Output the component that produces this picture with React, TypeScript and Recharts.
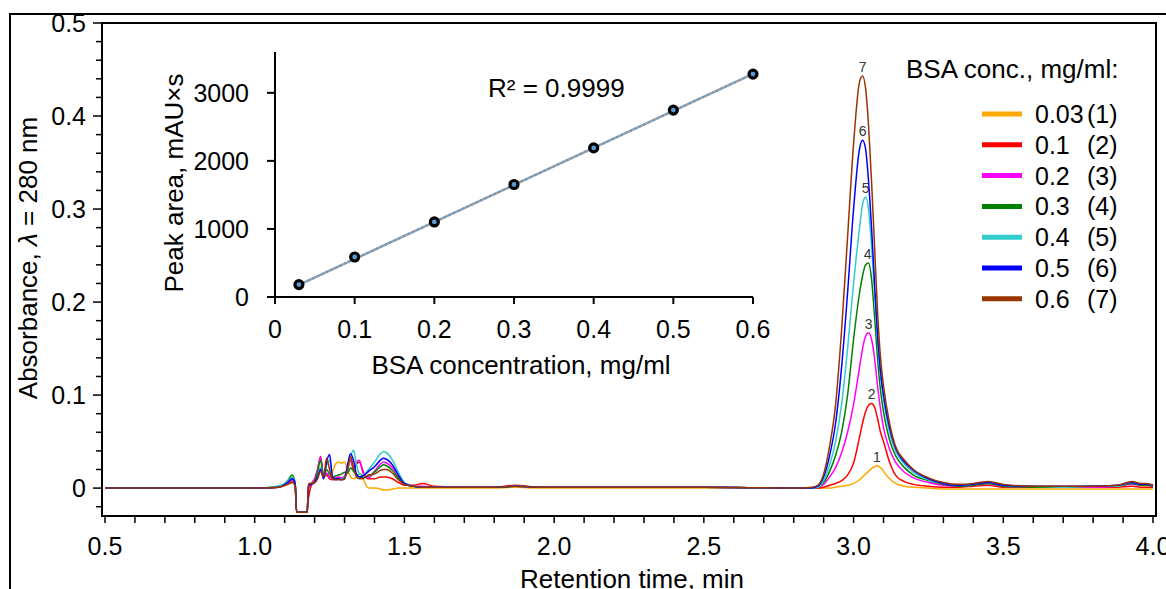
import { ComposedChart, LineChart, Line, Scatter, XAxis, YAxis, ReferenceArea, ReferenceDot, Label } from "recharts"

const FONT = "'Liberation Sans', Arial, sans-serif"

// retention time, min (grid is denser where the traces change fast)
const retentionTime = [
  0.5, 0.8, 1.0, 1.08, 1.11, 1.125, 1.135, 1.14, 1.145, 1.175,
  1.18, 1.19, 1.2, 1.21, 1.22, 1.23, 1.24, 1.25, 1.26, 1.27, 1.28, 1.29, 1.3, 1.31, 1.32, 1.33, 1.34, 1.35, 1.36, 1.37, 1.38,
  1.4, 1.42, 1.43, 1.44, 1.46, 1.48, 1.5, 1.53, 1.56, 1.6, 1.7, 1.8, 1.87, 1.95, 2.2, 2.5, 2.8,
  2.86, 2.88, 2.9, 2.92, 2.94, 2.96, 2.98, 3.0, 3.02, 3.03, 3.04, 3.05, 3.06, 3.07, 3.08, 3.09, 3.1, 3.12, 3.14, 3.17, 3.2, 3.25, 3.3,
  3.35, 3.4, 3.45, 3.5, 3.6, 3.7, 3.8, 3.88, 3.93, 3.96, 3.98, 4.0,
]

const absorbance1 = [
  0, 0, 0, 0.001, 0.004, 0.006, 0.003, -0.026, -0.026, -0.026,
  0.002, 0.006, 0.01, 0.018, 0.022, 0.012, 0.015, 0.012, 0.018, 0.026, 0.028, 0.027, 0.028, 0.02, 0.012, 0.01, 0.012, 0.016, 0.012, 0.004, 0,
  0, -0.001, -0.002, -0.002, -0.001, 0, 0, 0, 0, 0, 0, 0, 0.001, 0, 0, 0, 0,
  0, 0, 0, 0, 0.001, 0.002, 0.003, 0.005, 0.009, 0.012, 0.015, 0.018, 0.021, 0.023, 0.024, 0.022, 0.018, 0.01, 0.005, 0.002, 0.001, 0, -0.001,
  -0.001, -0.001, -0.001, -0.001, -0.001, -0.001, -0.001, -0.001, -0.001, -0.001, -0.001, -0.001,
]
const absorbance2 = [
  0, 0, 0, 0.001, 0.005, 0.008, 0.004, -0.026, -0.026, -0.026,
  -0.01, 0.004, 0.008, 0.02, 0.034, 0.012, 0.014, 0.01, 0.009, 0.01, 0.011, 0.01, 0.012, 0.02, 0.03, 0.02, 0.026, 0.028, 0.02, 0.012, 0.01,
  0.01, 0.012, 0.012, 0.012, 0.01, 0.006, 0.003, 0.003, 0.005, 0.002, 0.001, 0.001, 0.003, 0.001, 0.001, 0.001, 0,
  0, 0, 0.001, 0.003, 0.005, 0.008, 0.014, 0.027, 0.055, 0.07, 0.082, 0.089, 0.091, 0.087, 0.075, 0.06, 0.05, 0.028, 0.014, 0.007, 0.004, 0.002, 0.001,
  0.001, 0.002, 0.003, 0.001, 0.001, 0.001, 0.001, 0.001, 0.002, 0.001, 0.001, 0.001,
]
const absorbance3 = [
  0, 0, 0, 0.001, 0.005, 0.009, 0.004, -0.026, -0.026, -0.026,
  0, 0.005, 0.01, 0.02, 0.033, 0.014, 0.016, 0.012, 0.01, 0.011, 0.012, 0.011, 0.013, 0.022, 0.032, 0.022, 0.028, 0.03, 0.018, 0.012, 0.011,
  0.018, 0.026, 0.028, 0.027, 0.022, 0.013, 0.005, 0.002, 0.002, 0.001, 0.001, 0.001, 0.002, 0.001, 0.001, 0.001, 0,
  0, 0.001, 0.004, 0.012, 0.022, 0.038, 0.06, 0.09, 0.13, 0.15, 0.163, 0.167, 0.16, 0.14, 0.11, 0.085, 0.065, 0.042, 0.028, 0.017, 0.011, 0.006, 0.003,
  0.002, 0.003, 0.005, 0.002, 0.001, 0.001, 0.001, 0.002, 0.004, 0.003, 0.003, 0.002,
]
const absorbance4 = [
  0, 0, 0, 0.002, 0.008, 0.014, 0.006, -0.026, -0.026, -0.026,
  0.004, 0.005, 0.007, 0.018, 0.03, 0.012, 0.02, 0.015, 0.012, 0.013, 0.014, 0.015, 0.017, 0.016, 0.022, 0.018, 0.014, 0.012, 0.011, 0.012, 0.013,
  0.017, 0.023, 0.025, 0.024, 0.019, 0.011, 0.004, 0.002, 0.001, 0.001, 0.001, 0.001, 0.002, 0.001, 0.001, 0.001, 0,
  0, 0.001, 0.006, 0.018, 0.035, 0.06, 0.1, 0.16, 0.21, 0.228, 0.24, 0.242, 0.225, 0.185, 0.14, 0.105, 0.082, 0.052, 0.035, 0.022, 0.014, 0.008, 0.004,
  0.002, 0.003, 0.005, 0.002, 0.001, 0.001, 0.002, 0.002, 0.005, 0.003, 0.003, 0.002,
]
const absorbance5 = [
  0, 0, 0, 0.002, 0.007, 0.012, 0.005, -0.026, -0.026, -0.026,
  0.004, 0.005, 0.006, 0.012, 0.022, 0.01, 0.025, 0.03, 0.01, 0.009, 0.01, 0.01, 0.012, 0.02, 0.034, 0.041, 0.025, 0.015, 0.014, 0.016, 0.02,
  0.028, 0.037, 0.039, 0.038, 0.03, 0.017, 0.006, 0.002, 0.001, 0.001, 0.001, 0.001, 0.002, 0.001, 0.001, 0.001, 0,
  0, 0.001, 0.008, 0.025, 0.05, 0.09, 0.15, 0.22, 0.28, 0.305, 0.313, 0.3, 0.26, 0.21, 0.16, 0.12, 0.095, 0.06, 0.04, 0.026, 0.017, 0.009, 0.005,
  0.003, 0.004, 0.006, 0.003, 0.002, 0.001, 0.002, 0.002, 0.006, 0.004, 0.004, 0.003,
]
const absorbance6 = [
  0, 0, 0, 0.001, 0.006, 0.01, 0.005, -0.026, -0.026, -0.026,
  0.003, 0.004, 0.006, 0.012, 0.02, 0.01, 0.028, 0.036, 0.012, 0.01, 0.01, 0.009, 0.01, 0.025, 0.037, 0.03, 0.015, 0.012, 0.013, 0.015, 0.018,
  0.023, 0.03, 0.032, 0.031, 0.025, 0.014, 0.005, 0.002, 0.001, 0.001, 0.001, 0.001, 0.002, 0.001, 0.001, 0.001, 0,
  0, 0.002, 0.012, 0.035, 0.07, 0.13, 0.21, 0.3, 0.365, 0.374, 0.365, 0.33, 0.28, 0.22, 0.165, 0.125, 0.1, 0.065, 0.043, 0.028, 0.019, 0.01, 0.005,
  0.003, 0.004, 0.006, 0.003, 0.002, 0.002, 0.002, 0.003, 0.006, 0.004, 0.004, 0.003,
]
const absorbance7 = [
  0, 0, 0, 0.001, 0.004, 0.006, 0.003, -0.026, -0.026, -0.026,
  0.005, 0.005, 0.006, 0.01, 0.018, 0.012, 0.032, 0.02, 0.01, 0.009, 0.009, 0.009, 0.01, 0.02, 0.034, 0.022, 0.012, 0.01, 0.01, 0.012, 0.014,
  0.015, 0.019, 0.02, 0.02, 0.016, 0.009, 0.004, 0.002, 0.001, 0.001, 0.001, 0.001, 0.002, 0.001, 0.001, 0.001, 0,
  0.001, 0.003, 0.015, 0.045, 0.09, 0.17, 0.27, 0.37, 0.437, 0.443, 0.43, 0.39, 0.33, 0.26, 0.19, 0.14, 0.11, 0.07, 0.045, 0.03, 0.02, 0.011, 0.006,
  0.004, 0.005, 0.007, 0.004, 0.002, 0.002, 0.002, 0.003, 0.007, 0.005, 0.005, 0.003,
]

const seriesValues = [absorbance1, absorbance2, absorbance3, absorbance4, absorbance5, absorbance6, absorbance7]
const seriesColors = ["#FFA800", "#FF0000", "#FF00FF", "#008000", "#33CCCC", "#0000FF", "#993300"]
const concentrationLabels = ["0.03", "0.1", "0.2", "0.3", "0.4", "0.5", "0.6"]

// peak apex for the little 1..7 numbers
const peakTime = [3.078, 3.06, 3.05, 3.047, 3.04, 3.03, 3.03]
const peakHeight = [0.024, 0.091, 0.167, 0.242, 0.313, 0.374, 0.443]

// inset: calibration
const bsaConcentration = [0.03, 0.1, 0.2, 0.3, 0.4, 0.5, 0.6]
const peakArea = [182, 588, 1103, 1653, 2191, 2746, 3275]
const fitConcentration = [0.03, 0.6]
const fitArea = [178, 3278]

const xTicks = Array.from({ length: 36 }, (_, i) => +(0.5 + i * 0.1).toFixed(1))
const yTicks = Array.from({ length: 27 }, (_, i) => +(-0.02 + i * 0.02).toFixed(2))
const insetXTicks = [0, 0.1, 0.2, 0.3, 0.4, 0.5, 0.6]
const insetYTicks = [0, 1000, 2000, 3000]

const rows = retentionTime.map((t, i) => {
  const row: Record<string, number> = { t }
  seriesValues.forEach((s, k) => (row[`s${k + 1}`] = s[i]))
  return row
})
const calibration = bsaConcentration.map((x, i) => ({ x, y: peakArea[i] }))
const fitLine = fitConcentration.map((x, i) => ({ x, y: fitArea[i] }))

const isMultiple = (v: number, step: number) => Math.abs(v / step - Math.round(v / step)) < 1e-6

const MainXTick = ({ x, y, payload }: any) => {
  const v = payload.value
  return (
    <g>
      <line x1={x} x2={x} y1={y} y2={y + 7} stroke="#000" strokeWidth={1.5} />
      {isMultiple(v, 0.5) && (
        <text x={x} y={y + 39} textAnchor="middle" fontSize={25} fill="#000">
          {v.toFixed(1)}
        </text>
      )}
    </g>
  )
}

const MainYTick = ({ x, y, payload }: any) => {
  const v = payload.value
  const major = isMultiple(v, 0.1)
  return (
    <g>
      <line x1={x - (major ? 9 : 6)} x2={x} y1={y} y2={y} stroke="#000" strokeWidth={1.5} />
      {major && (
        <text x={x - 16} y={y + 9} textAnchor="end" fontSize={25} fill="#000">
          {v === 0 ? "0" : v.toFixed(1)}
        </text>
      )}
    </g>
  )
}

const InsetXTick = ({ x, y, payload }: any) => (
  <g>
    <line x1={x} x2={x} y1={y} y2={y + 7} stroke="#000" strokeWidth={2} />
    <text x={x} y={y + 41} textAnchor="middle" fontSize={25} fill="#000">
      {payload.value === 0 ? "0" : payload.value.toFixed(1)}
    </text>
  </g>
)

const InsetYTick = ({ x, y, payload }: any) => (
  <g>
    <line x1={x - 8} x2={x} y1={y} y2={y} stroke="#000" strokeWidth={2} />
    <text x={x - 26} y={y + 9} textAnchor="end" fontSize={25} fill="#000">
      {payload.value}
    </text>
  </g>
)

const Title = ({ x, y, text, size, rotate }: { x: number; y: number; text: React.ReactNode; size: number; rotate?: boolean }) => (
  <text
    x={x}
    y={y}
    textAnchor="middle"
    fontSize={size}
    fill="#000"
    transform={rotate ? `rotate(-90 ${x} ${y})` : undefined}
  >
    {text}
  </text>
)

export default function App() {
  return (
    <div style={{ position: "absolute", left: 0, top: 0, width: 1166, height: 589, fontFamily: FONT, background: "#fff", overflow: "hidden" }}>
      <div style={{ position: "absolute", left: 9, top: 13, width: 1200, height: 600, borderLeft: "2px solid #000", borderTop: "2px solid #000" }} />

      <div style={{ position: "absolute", left: 0, top: 0 }}>
        <LineChart width={1166} height={589} data={rows} margin={{ top: 23, right: 10, bottom: 0, left: 0 }}>
          <XAxis
            dataKey="t"
            type="number"
            domain={[0.49, 4.01]}
            allowDataOverflow
            ticks={xTicks}
            interval={0}
            tick={MainXTick}
            tickSize={0}
            tickMargin={0}
            tickLine={false}
            axisLine={false}
            height={73}
          >
            <Label content={() => <Title x={632} y={588} size={26} text="Retention time, min" />} />
          </XAxis>
          <YAxis
            type="number"
            domain={[-0.03, 0.5]}
            allowDataOverflow
            ticks={yTicks}
            interval={0}
            tick={MainYTick}
            tickSize={0}
            tickMargin={0}
            tickLine={false}
            axisLine={false}
            width={102}
          >
            <Label
              content={() => (
                <Title
                  x={37}
                  y={258}
                  size={26}
                  rotate
                  text={
                    <>
                      Absorbance, <tspan fontStyle="italic">λ</tspan> = 280 nm
                    </>
                  }
                />
              )}
            />
          </YAxis>
          <ReferenceArea x1={0.49} x2={4.01} y1={-0.03} y2={0.5} fill="none" stroke="#000" strokeWidth={2} />
          {seriesValues.map((_, k) => (
            <Line
              key={k}
              dataKey={`s${k + 1}`}
              type="monotone"
              stroke={seriesColors[k]}
              strokeWidth={1.5}
              dot={false}
              isAnimationActive={false}
            />
          ))}
          {peakTime.map((t, k) => (
            <ReferenceDot
              key={k}
              x={t}
              y={peakHeight[k]}
              r={1}
              fill="none"
              stroke="none"
              label={{ value: String(k + 1), position: "top", offset: 3, fontSize: 14, fill: "#333" }}
            />
          ))}
        </LineChart>
      </div>

      <div style={{ position: "absolute", left: 150, top: 30 }}>
        <ComposedChart width={620} height={360} margin={{ top: 22, right: 17, bottom: 0, left: 0 }}>
          <XAxis
            dataKey="x"
            type="number"
            domain={[0, 0.6]}
            ticks={insetXTicks}
            interval={0}
            tick={InsetXTick}
            tickSize={0}
            tickMargin={0}
            tickLine={false}
            axisLine={{ stroke: "#000", strokeWidth: 2 }}
            height={93}
          >
            <Label content={() => <Title x={371} y={344} size={26} text="BSA concentration, mg/ml" />} />
          </XAxis>
          <YAxis
            dataKey="y"
            type="number"
            domain={[0, 3600]}
            ticks={insetYTicks}
            interval={0}
            tick={InsetYTick}
            tickSize={0}
            tickMargin={0}
            tickLine={false}
            axisLine={{ stroke: "#000", strokeWidth: 2 }}
            width={125}
          >
            <Label content={() => <Title x={33} y={153} size={26} rotate text="Peak area, mAU×s" />} />
          </YAxis>
          <Line data={fitLine} dataKey="y" type="linear" stroke="#a0a0a0" strokeWidth={2.5} dot={false} isAnimationActive={false} />
          <Line data={fitLine} dataKey="y" type="linear" stroke="#5b9bd5" strokeWidth={2} strokeDasharray="2 3" dot={false} isAnimationActive={false} />
          <Scatter
            data={calibration}
            dataKey="y"
            isAnimationActive={false}
            shape={(p: any) => <circle cx={p.cx} cy={p.cy} r={4} fill="#5b9bd5" stroke="#000" strokeWidth={3.2} />}
          />
        </ComposedChart>
      </div>

      <svg width={1166} height={589} style={{ position: "absolute", left: 0, top: 0, pointerEvents: "none" }}>
        <text x={488} y={97} fontSize={26} fill="#000">
          R² = 0.9999
        </text>
        <text x={906} y={78} fontSize={26} fill="#000">
          BSA conc., mg/ml:
        </text>
        {concentrationLabels.map((c, k) => {
          const cy = 114 + k * 30.8
          return (
            <g key={k}>
              <line x1={982} x2={1022} y1={cy} y2={cy} stroke={seriesColors[k]} strokeWidth={5} />
              <text x={1035} y={cy + 9} fontSize={25} fill="#000">
                {c}
              </text>
              <text x={1087} y={cy + 9} fontSize={25} fill="#000">
                ({k + 1})
              </text>
            </g>
          )
        })}
      </svg>
    </div>
  )
}
